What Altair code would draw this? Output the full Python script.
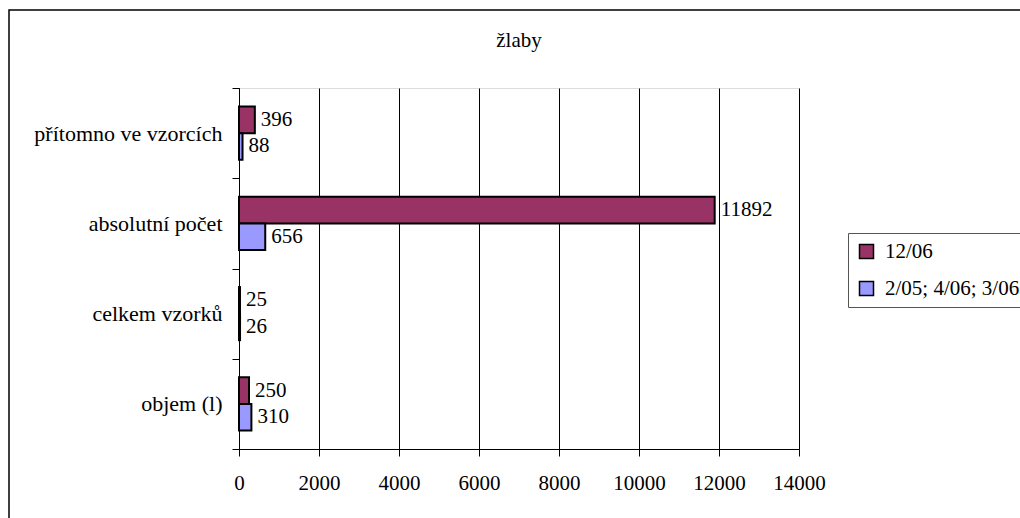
import altair as alt
import pandas as pd

# Categories, top to bottom
categories = ["přítomno ve vzorcích", "absolutní počet", "celkem vzorků", "objem (l)"]
series = ["12/06", "2/05; 4/06; 3/06"]
values_1206 = [396, 11892, 25, 250]
values_other = [88, 656, 26, 310]
colors = ["#993366", "#9999FF"]
x_ticks = [0, 2000, 4000, 6000, 8000, 10000, 12000, 14000]

rows = []
for cat, a, b in zip(categories, values_1206, values_other):
    rows.append({"kategorie": cat, "serie": series[0], "hodnota": a})
    rows.append({"kategorie": cat, "serie": series[1], "hodnota": b})
df = pd.DataFrame(rows)

FONT = "Liberation Serif"
FS = 21

y_enc = alt.Y(
    "kategorie:N",
    sort=categories,
    title=None,
    scale=alt.Scale(paddingInner=0, paddingOuter=0),
    axis=alt.Axis(
        tickBand="extent",
        tickSize=7,
        tickColor="#000000",
        domainColor="#000000",
        labelFont=FONT,
        labelFontSize=22,
        labelColor="#000000",
        labelPadding=10,
        labelLimit=400,
        grid=False,
    ),
)
x_enc = alt.X(
    "hodnota:Q",
    title=None,
    scale=alt.Scale(domain=[0, 14000], nice=False),
    axis=alt.Axis(
        values=x_ticks,
        tickSize=7,
        tickColor="#000000",
        domainColor="#000000",
        gridColor="#000000",
        gridWidth=1,
        labelFont=FONT,
        labelFontSize=FS,
        labelColor="#000000",
        labelPadding=16,
        labelFlush=False,
        format="d",
    ),
)
# Two bars per category, centred in the band with empty space around them
y_off = alt.YOffset("serie:N", sort=series, scale=alt.Scale(paddingInner=0, paddingOuter=0.7))

base = alt.Chart(df)

bars = base.mark_bar(stroke="#000000", strokeWidth=2).encode(
    y=y_enc,
    x=x_enc,
    yOffset=y_off,
    color=alt.Color(
        "serie:N",
        sort=series,
        scale=alt.Scale(domain=series, range=colors),
        legend=alt.Legend(
            title=None,
            orient="none",
            legendX=609,
            legendY=145,
            strokeColor="#555555",
            padding=8,
            symbolType="square",
            symbolSize=196,
            symbolStrokeColor="#000000",
            symbolStrokeWidth=1.5,
            symbolOpacity=1,
            labelFont=FONT,
            labelFontSize=FS,
            labelColor="#000000",
            labelOffset=8,
            labelLimit=400,
            rowPadding=15,
        ),
    ),
)

labels = base.mark_text(
    align="left", baseline="middle", dx=6, font=FONT, fontSize=FS, color="#000000"
).encode(
    y=alt.Y("kategorie:N", sort=categories),
    x=alt.X("hodnota:Q"),
    yOffset=alt.YOffset("serie:N", sort=series),
    text=alt.Text("hodnota:Q", format="d"),
)

# Outer border of the chart area
frame = alt.Chart(pd.DataFrame({"k": [0]})).mark_rect(
    fill=None, stroke="#000000", strokeWidth=1.5, clip=False
).encode(
    x=alt.value(-230), x2=alt.value(900), y=alt.value(-78), y2=alt.value(520)
)

chart = (
    alt.layer(frame, bars, labels)
    .properties(
        width=560,
        height=361,
        padding={"left": 239, "top": 88, "right": 221, "bottom": 69},
        autosize=alt.AutoSizeParams(type="none"),
        title=alt.Title(
            "žlaby",
            font=FONT,
            fontSize=FS,
            fontWeight="normal",
            color="#000000",
            anchor="middle",
            baseline="alphabetic",
            offset=-59,
        ),
    )
    .configure_view(stroke=None)
    .configure(background="#ffffff")
)

chart.save("out.html", embed_options={"renderer": "svg", "actions": False})
